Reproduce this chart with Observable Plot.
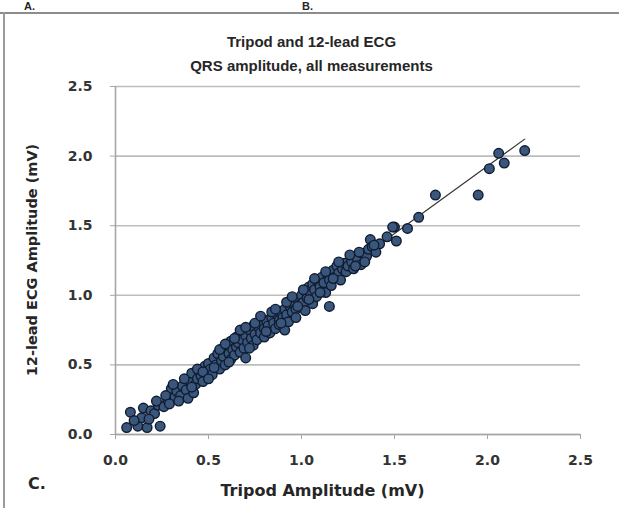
<!DOCTYPE html>
<html><head><meta charset="utf-8">
<script src="https://cdn.jsdelivr.net/npm/d3@7"></script>
<script src="https://cdn.jsdelivr.net/npm/@observablehq/plot@0.6"></script>
<style>
body{margin:0;background:#fff;}
#wrap{position:relative;width:619px;height:508px;overflow:hidden;font-family:"DejaVu Sans",sans-serif;background:#fff;}
#chart{position:absolute;left:0;top:0;}
.t{position:absolute;font-weight:bold;color:#262626;white-space:nowrap;}
</style></head><body>
<div id="wrap"><div id="chart"></div></div>
<script>
// Tripod amplitude (mV)
const tripodX = [
0.06,0.12,0.17,0.24,0.08,0.14,0.15,0.19,0.21,0.23,0.26,0.28,0.30,0.27,0.32,0.33,0.35,0.36,0.38,0.39,
0.40,0.42,0.41,0.43,0.44,0.45,0.46,0.47,0.48,0.49,0.50,0.51,0.52,0.53,0.54,0.55,0.56,0.57,0.58,0.58,
0.59,0.60,0.61,0.62,0.62,0.63,0.64,0.65,0.65,0.66,0.67,0.68,0.68,0.69,0.70,0.70,0.71,0.72,0.73,0.74,
0.74,0.75,0.76,0.77,0.78,0.79,0.80,0.80,0.81,0.82,0.83,0.84,0.85,0.86,0.87,0.88,0.88,0.89,0.90,0.91,
0.91,0.92,0.93,0.94,0.95,0.96,0.97,0.97,0.98,0.99,1.00,1.01,1.02,1.02,1.03,1.04,1.05,1.06,1.06,1.07,
1.08,1.09,1.10,1.11,1.12,1.13,1.14,1.15,1.16,1.17,1.18,1.19,1.20,1.21,1.22,1.23,1.24,1.25,1.27,1.28,
1.30,1.32,1.33,1.35,1.36,1.37,1.38,1.40,1.42,1.46,1.50,1.51,1.57,1.63,1.72,1.95,2.01,2.06,2.09,2.20,
1.15,1.49,
0.10,0.18,0.22,0.29,0.31,0.34,0.37,0.41,0.44,0.47,0.50,0.53,0.56,0.59,0.61,0.64,0.67,0.70,0.72,0.75,
0.78,0.81,0.84,0.86,0.89,0.92,0.95,0.98,1.01,1.04,1.07,1.10,1.13,1.17,1.20,1.26,1.29,1.31,1.34,1.39
];
// 12-lead ECG amplitude (mV), same order
const ecgY = [
0.05,0.06,0.05,0.06,0.16,0.12,0.19,0.17,0.15,0.21,0.20,0.25,0.33,0.28,0.27,0.31,0.28,0.35,0.32,0.26,
0.38,0.30,0.44,0.36,0.40,0.46,0.42,0.38,0.49,0.44,0.51,0.47,0.43,0.55,0.50,0.58,0.47,0.53,0.60,0.56,
0.50,0.64,0.58,0.54,0.67,0.61,0.57,0.70,0.63,0.66,0.59,0.73,0.68,0.62,0.71,0.55,0.66,0.75,0.69,0.64,
0.78,0.72,0.68,0.77,0.73,0.80,0.70,0.76,0.82,0.78,0.73,0.84,0.80,0.76,0.86,0.82,0.79,0.88,0.84,0.75,
0.90,0.86,0.81,0.92,0.88,0.95,0.90,0.84,0.97,0.93,1.00,0.95,0.89,1.03,0.98,1.06,1.01,0.94,1.08,1.04,
0.99,1.10,1.06,1.13,1.09,1.02,1.15,1.11,1.07,1.18,1.13,1.21,1.16,1.11,1.19,1.23,1.17,1.21,1.24,1.19,
1.26,1.22,1.30,1.28,1.33,1.40,1.35,1.31,1.37,1.42,1.49,1.39,1.48,1.56,1.72,1.72,1.91,2.02,1.95,2.04,
0.92,1.49,
0.10,0.11,0.24,0.22,0.36,0.24,0.40,0.34,0.47,0.45,0.40,0.48,0.61,0.65,0.52,0.69,0.75,0.77,0.62,0.80,
0.85,0.74,0.88,0.90,0.80,0.95,0.99,0.92,1.04,0.97,1.12,1.02,1.17,1.12,1.24,1.29,1.21,1.31,1.24,1.36
];
const tickValues = [0, 0.5, 1.0, 1.5, 2.0, 2.5];
const titleLines = ["Tripod and 12-lead ECG", "QRS amplitude, all measurements"];
const xLabel = "Tripod Amplitude (mV)";
const yLabel = "12-lead ECG Amplitude (mV)";
const panelLetters = ["A.", "B.", "C."];

const points = tripodX.map((x, i) => ({x, y: ecgY[i]}));
const fmt = d3.format(".1f");

const chart = Plot.plot({
  width: 619, height: 508,
  marginLeft: 115, marginRight: 39, marginTop: 86, marginBottom: 74,
  x: {domain: [0, 2.5]},
  y: {domain: [0, 2.5]},
  style: {fontFamily: "DejaVu Sans", fontSize: "14px", fontWeight: "bold", background: "transparent"},
  marks: [
    Plot.gridY(tickValues, {stroke: "#bdbdbd", strokeOpacity: 1, strokeWidth: 1.6}),
    Plot.ruleX([0], {stroke: "#a6a6a6", strokeWidth: 1.6}),
    Plot.ruleY([0], {stroke: "#a6a6a6", strokeWidth: 1.6}),
    Plot.axisY(tickValues, {tickSize: 5, tickPadding: 18, tickFormat: fmt, stroke: "#a6a6a6", fill: "#333", label: null}),
    Plot.axisX(tickValues, {tickSize: 5, tickPadding: 16, tickFormat: fmt, stroke: "#a6a6a6", fill: "#333", label: null}),
    Plot.linearRegressionY(points, {x: "x", y: "y", stroke: "#333", strokeWidth: 1.2, ci: 0}),
    Plot.dot(points, {x: "x", y: "y", r: 4.8, fill: "#3a567c", stroke: "#101c30", strokeWidth: 1.4})
  ]
});
document.getElementById("chart").append(chart);

const wrapEl = document.getElementById("wrap");
function addText(txt, css) {
  const d = document.createElement("div");
  d.className = "t";
  d.textContent = txt;
  Object.assign(d.style, css);
  wrapEl.append(d);
  return d;
}
// frame lines
const frameTop = document.createElement("div");
Object.assign(frameTop.style, {position: "absolute", left: "0px", top: "12px", width: "619px", height: "2px", background: "#8c8c8c"});
wrapEl.append(frameTop);
const frameLeft = document.createElement("div");
Object.assign(frameLeft.style, {position: "absolute", left: "3px", top: "12px", width: "2px", height: "496px", background: "#9a9a9a"});
wrapEl.append(frameLeft);

addText(panelLetters[0], {left: "24px", top: "1px", fontSize: "11px", lineHeight: "11px", fontFamily: "Liberation Sans"});
addText(panelLetters[1], {left: "302px", top: "1px", fontSize: "11px", lineHeight: "11px", fontFamily: "Liberation Sans"});
addText(panelLetters[2], {left: "28px", top: "474px", fontSize: "16px", fontFamily: "DejaVu Sans"});

addText(titleLines[0], {left: "2px", width: "619px", textAlign: "center", top: "33px", fontSize: "15px", fontFamily: "Liberation Sans"});
addText(titleLines[1], {left: "2px", width: "619px", textAlign: "center", top: "57px", fontSize: "15px", fontFamily: "Liberation Sans"});

addText(xLabel, {left: "90px", width: "465px", textAlign: "center", top: "481px", fontSize: "16px"});
const yl = addText(yLabel, {left: "32px", top: "260px", fontSize: "14.5px"});
yl.style.transform = "translate(-50%,-50%) rotate(-90deg)";
</script>
</body></html>
